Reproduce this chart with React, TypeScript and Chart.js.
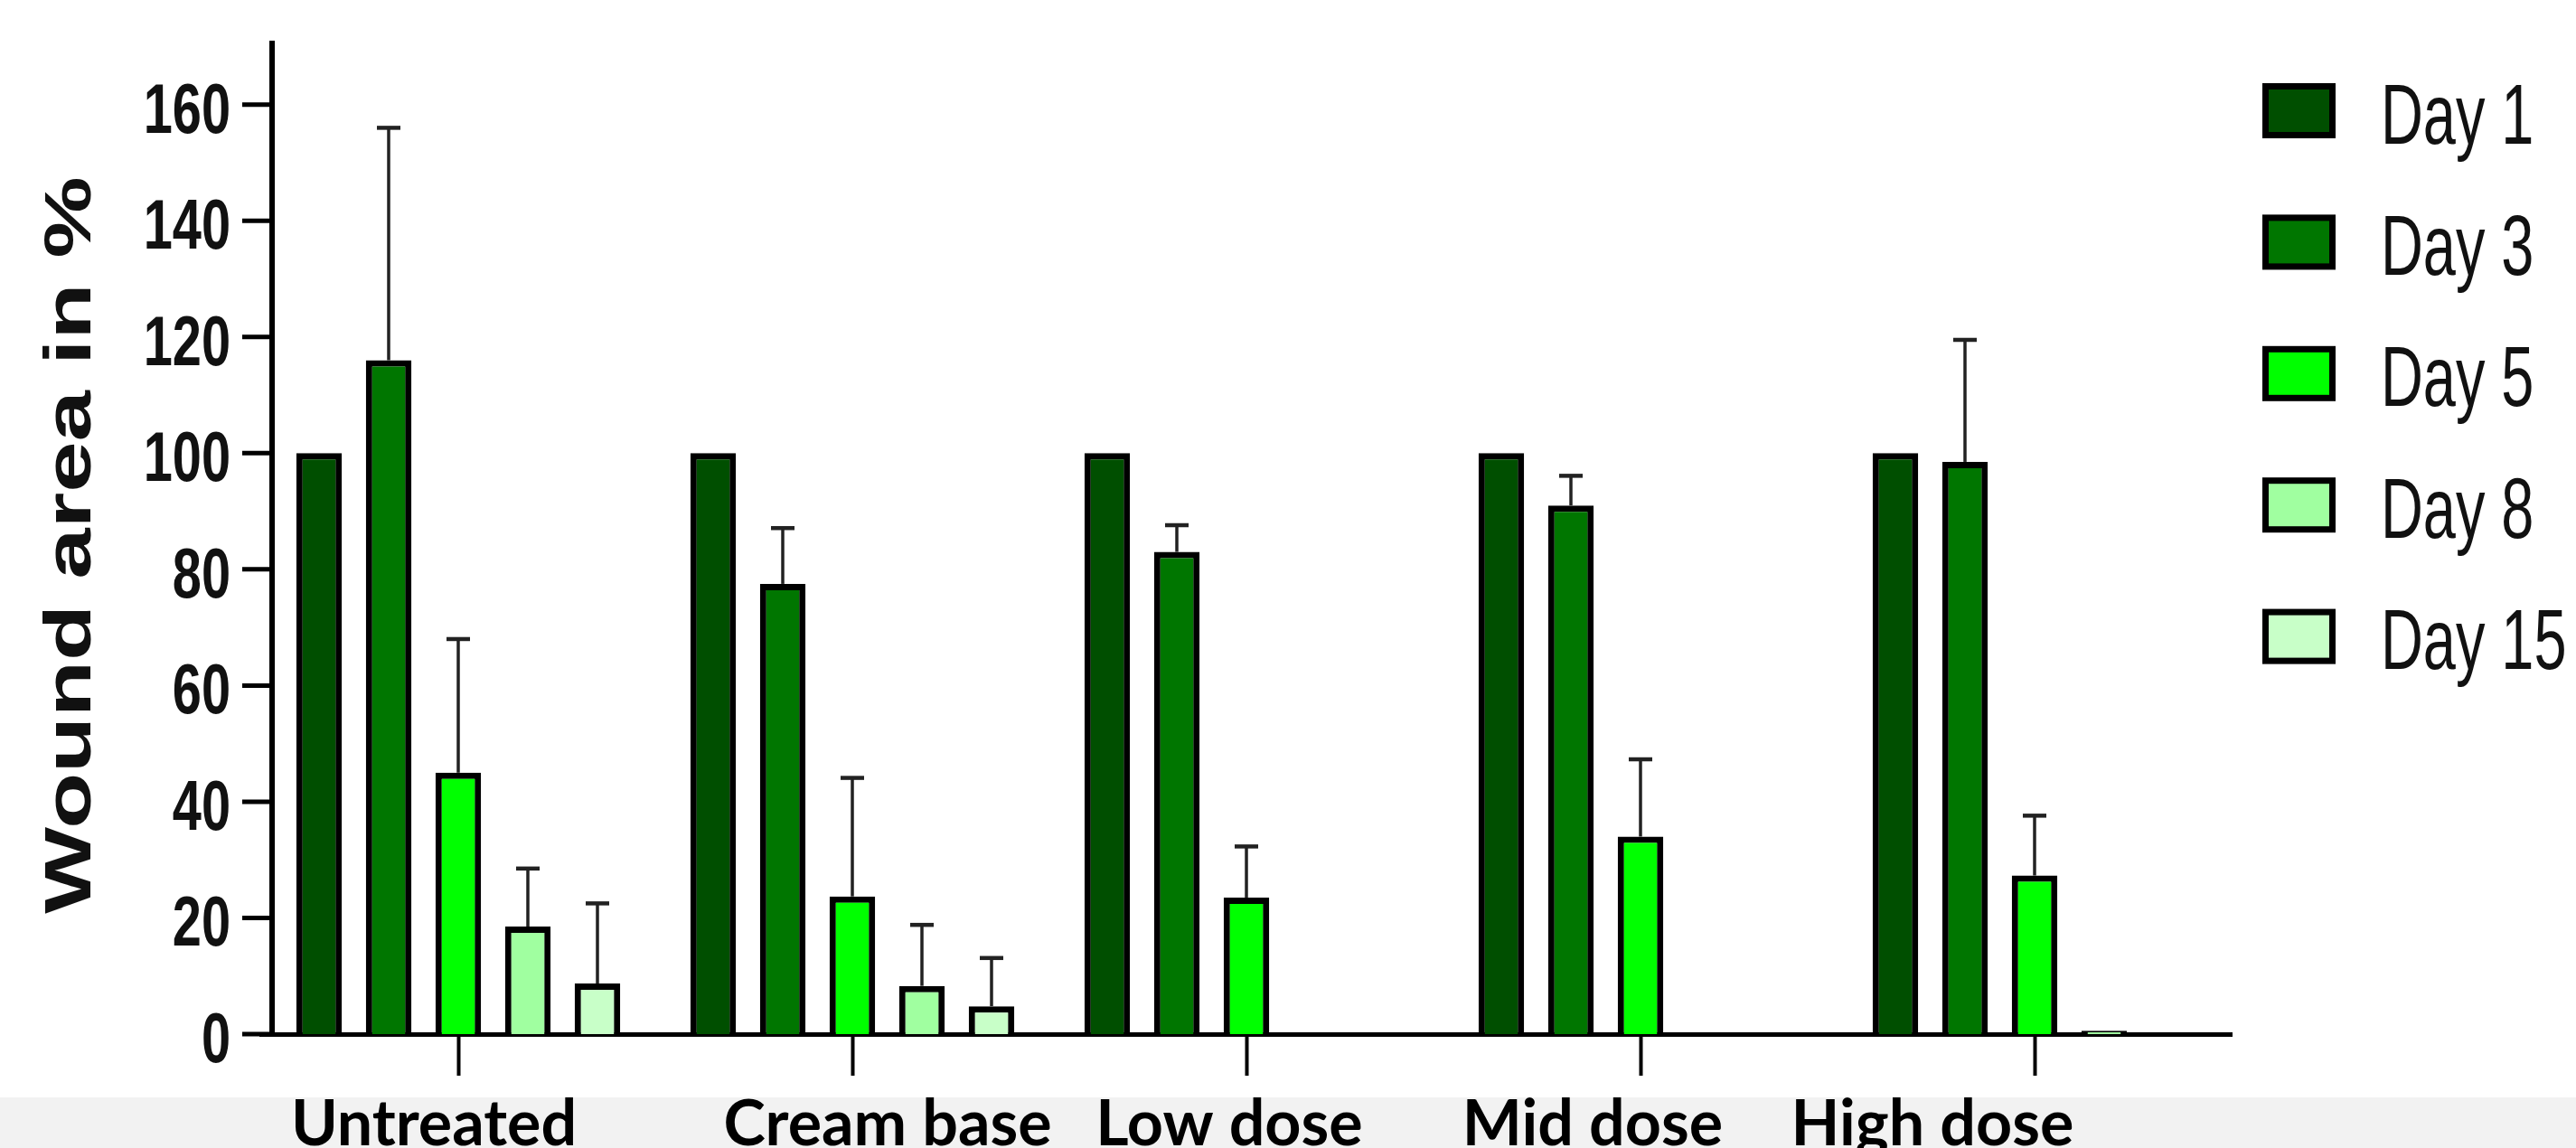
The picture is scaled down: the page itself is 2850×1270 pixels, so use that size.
import React, { useEffect, useRef } from "react";
import { Chart, registerables } from "chart.js";

Chart.register(...registerables);

// ---------------- data ----------------
const categories = ["Untreated", "Cream base", "Low dose", "Mid dose", "High dose"];
const seriesNames = ["Day 1", "Day 3", "Day 5", "Day 8", "Day 15"];

const day1 = [100, 100, 100, 100, 100];
const day3 = [116, 77.5, 83, 91, 98.5];
const day5 = [45, 23.7, 23.5, 34, 27.3];
const day8 = [18.5, 8.3, null, null, 0.6];
const day15 = [8.7, 4.8, null, null, null];

// upper error (SD) for each series
const err1 = [null, null, null, null, null];
const err3 = [40, 9.6, 4.6, 5.1, 21];
const err5 = [23, 20.4, 8.8, 13.3, 10.3];
const err8 = [10, 10.5, null, null, null];
const err15 = [13.8, 8.3, null, null, null];

const yTickValues = [0, 20, 40, 60, 80, 100, 120, 140, 160];
const yTitle = "Wound area in %";

// ---------------- style ----------------
const COLORS = ["#004f00", "#007600", "#00ff00", "#a0ffa0", "#c8ffc8"];
const W = 2850;
const H = 1270;
const AXIS_X = 301;
const LABEL_SHIFT = [-27, 39, -19, -53, -113];

const seriesValues = [day1, day3, day5, day8, day15];
const seriesErrors = [err1, err3, err5, err8, err15];

function drawText(
  ctx: CanvasRenderingContext2D,
  text: string,
  x: number,
  y: number,
  font: string,
  sx: number,
  align: CanvasTextAlign,
  color: string
) {
  ctx.save();
  ctx.font = font;
  ctx.fillStyle = color;
  ctx.textBaseline = "alphabetic";
  ctx.textAlign = align;
  ctx.translate(x, y);
  ctx.scale(sx, 1);
  ctx.fillText(text, 0, 0);
  ctx.restore();
}

const errorBarPlugin = {
  id: "errorBars",
  afterDatasetsDraw(chart: any) {
    const ctx: CanvasRenderingContext2D = chart.ctx;
    const yScale = chart.scales.y;
    chart.data.datasets.forEach((ds: any, i: number) => {
      const meta = chart.getDatasetMeta(i);
      const errs = seriesErrors[i];
      meta.data.forEach((el: any, j: number) => {
        const v = ds.data[j];
        const e = errs[j];
        if (v == null || e == null) return;
        const x = el.x;
        const yTop = yScale.getPixelForValue(v);
        const yCap = yScale.getPixelForValue(v + e);
        ctx.save();
        ctx.strokeStyle = "#222";
        ctx.lineWidth = 3.5;
        ctx.beginPath();
        ctx.moveTo(x, yTop);
        ctx.lineTo(x, yCap);
        ctx.stroke();
        ctx.lineWidth = 4.5;
        ctx.beginPath();
        ctx.moveTo(x - 13, yCap);
        ctx.lineTo(x + 13, yCap);
        ctx.stroke();
        ctx.restore();
      });
    });
  },
};

const decorPlugin = {
  id: "decor",
  afterDraw(chart: any) {
    const ctx: CanvasRenderingContext2D = chart.ctx;
    const yScale = chart.scales.y;
    const xScale = chart.scales.x;
    const area = chart.chartArea;

    // y axis line and ticks
    ctx.save();
    ctx.strokeStyle = "#000";
    ctx.lineWidth = 6;
    ctx.beginPath();
    ctx.moveTo(AXIS_X, area.top);
    ctx.lineTo(AXIS_X, area.bottom + 2);
    ctx.stroke();
    ctx.lineWidth = 5;
    yTickValues.forEach((v) => {
      const py = yScale.getPixelForValue(v);
      ctx.beginPath();
      ctx.moveTo(AXIS_X - 33, py);
      ctx.lineTo(AXIS_X, py);
      ctx.stroke();
    });
    ctx.restore();

    // y tick labels
    yTickValues.forEach((v) => {
      const py = yScale.getPixelForValue(v);
      drawText(ctx, String(v), AXIS_X - 46, py + 31, "bold 77px 'Liberation Sans', Arial, sans-serif", 0.75, "right", "#111");
    });

    // y title (rotated)
    ctx.save();
    ctx.translate(100, 603);
    ctx.rotate(-Math.PI / 2);
    ctx.scale(1.39, 1);
    ctx.font = "bold 73px 'Liberation Sans', Arial, sans-serif";
    ctx.fillStyle = "#111";
    ctx.textAlign = "center";
    ctx.textBaseline = "alphabetic";
    ctx.fillText(yTitle, 0, 0);
    ctx.restore();

    // legend
    chart.data.datasets.forEach((ds: any, i: number) => {
      const top = 92 + i * 145.4;
      ctx.save();
      ctx.fillStyle = "#000";
      ctx.fillRect(2503, top, 81, 61);
      ctx.fillStyle = ds.backgroundColor;
      ctx.fillRect(2510, top + 7, 67, 47);
      ctx.restore();
      drawText(ctx, ds.label, 2634, top + 66.5, "94px 'Liberation Sans', Arial, sans-serif", 0.69, "left", "#111");
    });

    // bottom band with category names
    ctx.save();
    ctx.fillStyle = "#f2f2f2";
    ctx.fillRect(0, 1214, W, H - 1214);
    ctx.restore();
    categories.forEach((c, i) => {
      const px = xScale.getPixelForValue(i) + LABEL_SHIFT[i];
      drawText(ctx, c, px, 1267, "bold 70px Lato, 'Open Sans', sans-serif", 1.0, "center", "#000");
    });
  },
};

export default function App() {
  const canvasRef = useRef<HTMLCanvasElement | null>(null);

  useEffect(() => {
    const canvas = canvasRef.current;
    if (!canvas) return;
    const chart = new Chart(canvas, {
      type: "bar",
      data: {
        labels: categories,
        datasets: seriesValues.map((vals, i) => ({
          label: seriesNames[i],
          data: vals as any,
          backgroundColor: COLORS[i],
          borderColor: "#000",
          borderWidth: 7,
          categoryPercentage: 0.883,
          barPercentage: 0.655,
        })),
      },
      options: {
        responsive: false,
        animation: false,
        devicePixelRatio: 1,
        layout: { padding: { left: 0, top: 45, right: 381, bottom: 0 }, autoPadding: false } as any,
        plugins: {
          legend: { display: false },
          tooltip: { enabled: false },
        },
        scales: {
          x: {
            type: "category",
            offset: true,
            grid: {
              offset: false,
              drawOnChartArea: false,
              drawTicks: true,
              tickLength: 46,
              tickWidth: 4,
              tickColor: "#000",
            },
            border: { display: true, color: "#000", width: 5 },
            ticks: { display: false },
            afterFit: (s: any) => {
              s.height = 126;
            },
          } as any,
          y: {
            type: "linear",
            min: 0,
            max: 171,
            ticks: { stepSize: 20, display: false, includeBounds: false },
            grid: {
              display: false,
              drawOnChartArea: false,
              drawTicks: false,
            },
            border: { display: false },
            afterFit: (s: any) => {
              s.width = 289;
            },
          } as any,
        },
      },
      plugins: [errorBarPlugin, decorPlugin],
    });
    return () => chart.destroy();
  }, []);

  return (
    <div style={{ position: "fixed", left: 0, top: 0, width: W, height: H, background: "#fff" }}>
      <canvas ref={canvasRef} width={W} height={H} style={{ display: "block", width: W, height: H }} />
    </div>
  );
}
